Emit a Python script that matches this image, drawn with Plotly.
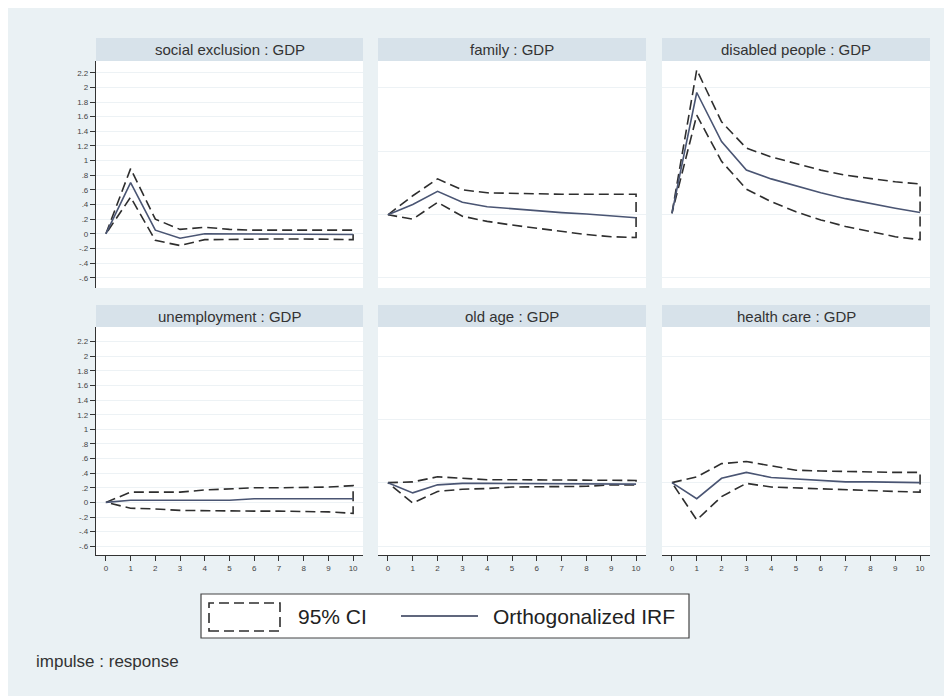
import plotly.graph_objects as go

OFF = 8  # default page margin of the html body
W, H = 952 - OFF, 696 - OFF

steps = list(range(11))
panel_titles = ["social exclusion : GDP", "family : GDP", "disabled people : GDP",
                "unemployment : GDP", "old age : GDP", "health care : GDP"]

se_irf = [0, 0.70, 0.05, -0.06, 0.0, 0.0, 0.0, 0.0, 0.0, 0.0, -0.01]
se_up = [0, 0.89, 0.20, 0.06, 0.09, 0.06, 0.05, 0.05, 0.05, 0.05, 0.05]
se_lo = [0, 0.50, -0.09, -0.16, -0.08, -0.07, -0.07, -0.07, -0.07, -0.07, -0.08]

fam_irf = [0.26, 0.40, 0.58, 0.43, 0.37, 0.34, 0.31, 0.29, 0.27, 0.24, 0.22]
fam_up = [0.26, 0.52, 0.75, 0.60, 0.56, 0.55, 0.54, 0.54, 0.54, 0.54, 0.54]
fam_lo = [0.26, 0.20, 0.43, 0.24, 0.17, 0.12, 0.07, 0.03, -0.01, -0.04, -0.05]

dis_irf = [0.28, 1.93, 1.26, 0.87, 0.75, 0.65, 0.56, 0.48, 0.41, 0.35, 0.29]
dis_up = [0.28, 2.24, 1.53, 1.17, 1.05, 0.96, 0.87, 0.80, 0.75, 0.71, 0.68]
dis_lo = [0.28, 1.62, 0.99, 0.61, 0.44, 0.30, 0.19, 0.10, 0.03, -0.04, -0.08]

un_irf = [0, 0.03, 0.03, 0.03, 0.03, 0.03, 0.05, 0.05, 0.05, 0.05, 0.05]
un_up = [0, 0.14, 0.14, 0.14, 0.17, 0.19, 0.20, 0.20, 0.20, 0.21, 0.23]
un_lo = [0, -0.08, -0.09, -0.11, -0.11, -0.12, -0.12, -0.12, -0.12, -0.13, -0.15]

old_irf = [0.27, 0.13, 0.24, 0.26, 0.26, 0.26, 0.26, 0.26, 0.26, 0.26, 0.25]
old_up = [0.27, 0.28, 0.35, 0.33, 0.31, 0.31, 0.31, 0.31, 0.31, 0.31, 0.30]
old_lo = [0.27, -0.01, 0.15, 0.18, 0.19, 0.21, 0.21, 0.22, 0.22, 0.24, 0.24]

hc_irf = [0.27, 0.05, 0.33, 0.41, 0.34, 0.32, 0.30, 0.28, 0.28, 0.27, 0.27]
hc_up = [0.27, 0.35, 0.53, 0.56, 0.50, 0.44, 0.43, 0.42, 0.41, 0.41, 0.41]
hc_lo = [0.27, -0.24, 0.08, 0.26, 0.21, 0.20, 0.18, 0.17, 0.16, 0.15, 0.14]

y_tick_vals = [2.2, 2.0, 1.8, 1.6, 1.4, 1.2, 1.0, 0.8, 0.6, 0.4, 0.2, 0.0, -0.2, -0.4, -0.6]
y_tick_text = ["2.2", "2", "1.8", "1.6", "1.4", "1.2", "1", ".8", ".6", ".4", ".2", "0", "-.2", "-.4", "-.6"]
x_tick_text = [str(s) for s in steps]

panels = [(se_irf, se_up, se_lo), (fam_irf, fam_up, fam_lo), (dis_irf, dis_up, dis_lo),
          (un_irf, un_up, un_lo), (old_irf, old_up, old_lo), (hc_irf, hc_up, hc_lo)]

def fx(x):
    return (x - OFF) / W

def fy(y):
    return 1 - (y - OFF) / H

col_px = [(96, 363), (378, 646), (662, 930)]
row_px = [(61, 288), (327, 555)]
title_px = [(38, 61), (305, 327)]
row_ranges = [[-0.74, 2.36], [-0.72, 2.40]]

CI_COLOR = "#2e2e2e"
IRF_COLOR = "#4a5573"
FONT = "Liberation Sans, Arial, sans-serif"

fig = go.Figure()
layout = {}
shapes = []
annotations = []

for i, (irf, up, lo) in enumerate(panels):
    r, c = divmod(i, 3)
    n = i + 1
    xa = "x" if n == 1 else f"x{n}"
    ya = "y" if n == 1 else f"y{n}"
    ci_x = steps + steps[::-1]
    ci_y = up + lo[::-1]
    fig.add_trace(go.Scatter(x=ci_x, y=ci_y, mode="lines", xaxis=xa, yaxis=ya,
                             line=dict(color=CI_COLOR, width=1.6, dash="10px,5px"),
                             name="95% CI", showlegend=False, hoverinfo="skip"))
    fig.add_trace(go.Scatter(x=steps, y=irf, mode="lines", xaxis=xa, yaxis=ya,
                             line=dict(color=IRF_COLOR, width=1.6),
                             name="Orthogonalized IRF", showlegend=False))

    xkey = "xaxis" if n == 1 else f"xaxis{n}"
    ykey = "yaxis" if n == 1 else f"yaxis{n}"
    x0, x1 = col_px[c]
    yt, yb = row_px[r]
    xd = dict(domain=[fx(x0), fx(x1)], anchor=ya, range=[-0.4, 10.4],
              showgrid=False, zeroline=False, fixedrange=True)
    if r == 1:
        xd.update(showline=True, linecolor="#333333", linewidth=1.2, ticks="outside",
                  ticklen=5, tickcolor="#333333", tickwidth=1.2,
                  tickvals=steps, ticktext=x_tick_text,
                  tickfont=dict(size=8, color="#444444", family=FONT))
    else:
        xd.update(showline=False, showticklabels=False, ticks="")
    yd = dict(domain=[fy(yb), fy(yt)], anchor=xa, range=row_ranges[r],
              zeroline=False, fixedrange=True, showgrid=True,
              gridcolor="#edf2f5", gridwidth=1)
    if c == 0:
        yd.update(showline=True, linecolor="#333333", linewidth=1.2, ticks="outside",
                  ticklen=5, tickcolor="#333333", tickwidth=1.2,
                  tickvals=y_tick_vals, ticktext=y_tick_text,
                  tickfont=dict(size=8, color="#444444", family=FONT))
    else:
        yd.update(showline=False, ticks="", showticklabels=False,
                  tickvals=[2.0, 1.13, 0.27, -0.6])
    layout[xkey] = xd
    layout[ykey] = yd

    ty0, ty1 = title_px[r]
    shapes.append(dict(type="rect", xref="paper", yref="paper",
                       x0=fx(x0), x1=fx(x1), y0=fy(ty1), y1=fy(ty0),
                       fillcolor="#d7e2ea", line=dict(width=0), layer="below"))
    annotations.append(dict(text=panel_titles[i], xref="paper", yref="paper",
                            x=fx((x0 + x1) / 2), y=fy((ty0 + ty1) / 2),
                            xanchor="center", yanchor="middle", showarrow=False,
                            font=dict(size=15, color="#333333", family=FONT)))

# legend box
shapes.append(dict(type="rect", xref="paper", yref="paper",
                   x0=fx(201), x1=fx(689), y0=fy(638), y1=fy(594),
                   fillcolor="white", line=dict(color="#444444", width=1.2)))
shapes.append(dict(type="rect", xref="paper", yref="paper",
                   x0=fx(209), x1=fx(280), y0=fy(631), y1=fy(603),
                   fillcolor="rgba(0,0,0,0)",
                   line=dict(color=CI_COLOR, width=1.6, dash="10px,5px")))
shapes.append(dict(type="line", xref="paper", yref="paper",
                   x0=fx(401), x1=fx(478), y0=fy(616), y1=fy(616),
                   line=dict(color="#2b3552", width=1.6)))
annotations.append(dict(text="95% CI", xref="paper", yref="paper",
                        x=fx(296), y=fy(616), xanchor="left", yanchor="middle",
                        showarrow=False, font=dict(size=21, color="#222222", family=FONT)))
annotations.append(dict(text="Orthogonalized IRF", xref="paper", yref="paper",
                        x=fx(491), y=fy(616), xanchor="left", yanchor="middle",
                        showarrow=False, font=dict(size=21, color="#222222", family=FONT)))
annotations.append(dict(text="impulse : response", xref="paper", yref="paper",
                        x=fx(34), y=fy(661), xanchor="left", yanchor="middle",
                        showarrow=False, font=dict(size=17, color="#333333", family=FONT)))

fig.update_layout(width=W, height=H, margin=dict(l=0, r=0, t=0, b=0),
                  paper_bgcolor="#eaf1f4", plot_bgcolor="white",
                  showlegend=False, shapes=shapes, annotations=annotations,
                  font=dict(family=FONT), **layout)

fig.write_html("out.html")
